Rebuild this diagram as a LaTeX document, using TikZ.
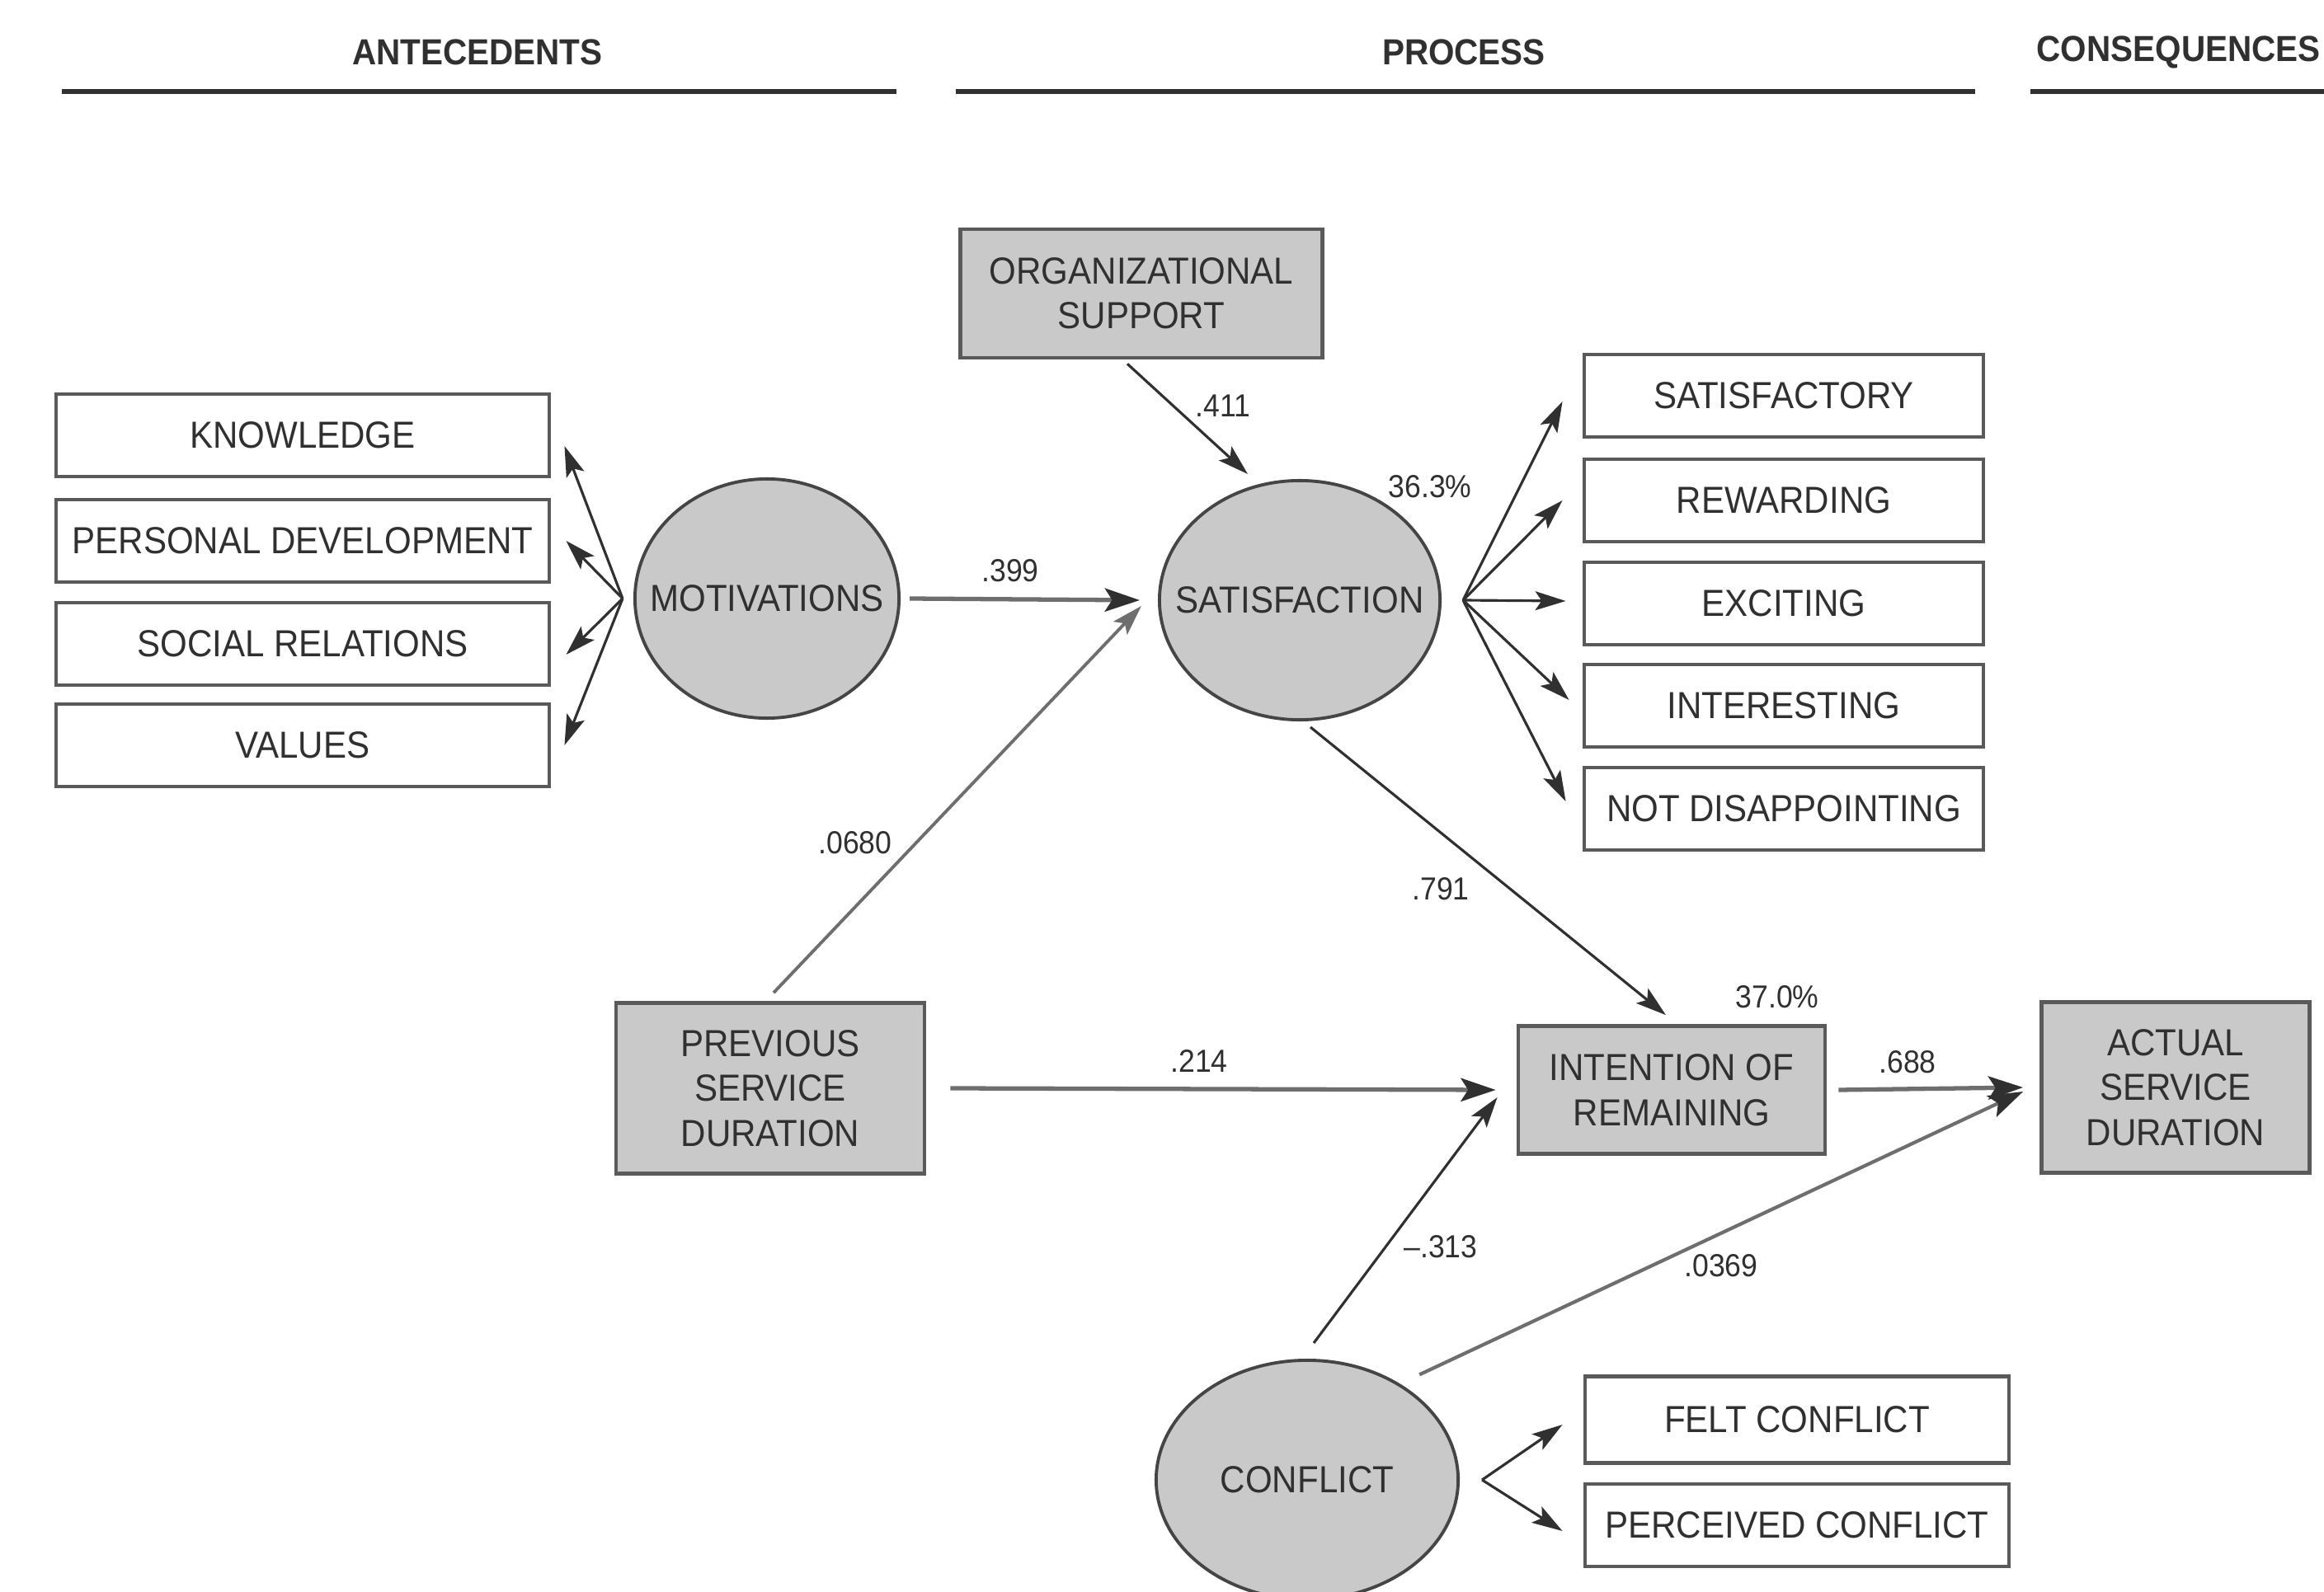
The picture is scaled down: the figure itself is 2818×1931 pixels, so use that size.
\documentclass[tikz,border=0pt]{standalone}
\usepackage{fontspec}
\setmainfont{Liberation Sans}[FakeStretch=0.92]
\usetikzlibrary{shapes.geometric,arrows.meta}
\definecolor{fillg}{HTML}{C9C9C9}
\definecolor{edgec}{HTML}{5A5A5A}
\definecolor{ink}{HTML}{303030}
\definecolor{thickc}{HTML}{6E6E6E}
\tikzset{
  boxbase/.style={draw=edgec, line width=1.3pt, inner sep=0pt, align=center, text=ink,
    font=\fontsize{13}{15.5}\selectfont},
  wbox/.style={boxbase, fill=white},
  gbox/.style={boxbase, fill=fillg},
  latent/.style={ellipse, draw=ink!90, line width=1.1pt, fill=fillg, inner sep=0pt, text=ink,
    font=\fontsize{13}{15.5}\selectfont},
  arr/.style={draw=ink, line width=0.9pt, -{Stealth[length=10.5pt,width=6.5pt,inset=2.2pt]}},
  thickarr/.style={draw=thickc, line width=1.5pt, -{Stealth[length=12pt,width=8pt,inset=2.5pt,color=ink]}},
  coef/.style={text=ink, font=\fontsize{11}{13}\selectfont, inner sep=0pt},
  head/.style={text=ink, font=\bfseries\fontsize{12.5}{14}\selectfont, inner sep=0pt},
  hline/.style={draw=ink, line width=1.6pt}
}
\begin{document}
\begin{tikzpicture}[x=0.01cm,y=-0.01cm]
\useasboundingbox[fill=white] (0,0) rectangle (2818,1931);

% headers
\node[head] (hA) at (579,63) {ANTECEDENTS};
\node[head] (hP) at (1775,63) {PROCESS};
\node[head, anchor=west] (hC) at (2469,63) {CONSEQUENCES};
\draw[hline] (75,111) -- (1087,111);
\draw[hline] (1159,111) -- (2395,111);
\draw[hline] (2462,111) -- (2818,111);

% left indicator boxes
\node[wbox, minimum width=5.98cm, minimum height=1.0cm] (kno) at (367,528) {KNOWLEDGE};
\node[wbox, minimum width=5.98cm, minimum height=1.0cm] (per) at (367,656) {PERSONAL DEVELOPMENT};
\node[wbox, minimum width=5.98cm, minimum height=1.0cm] (soc) at (367,781) {SOCIAL RELATIONS};
\node[wbox, minimum width=5.98cm, minimum height=1.0cm] (val) at (367,904) {VALUES};

% right indicator boxes
\node[wbox, minimum width=4.84cm, minimum height=1.0cm] (sfy) at (2163,480) {SATISFACTORY};
\node[wbox, minimum width=4.84cm, minimum height=1.0cm] (rew) at (2163,607) {REWARDING};
\node[wbox, minimum width=4.84cm, minimum height=1.0cm] (exc) at (2163,732) {EXCITING};
\node[wbox, minimum width=4.84cm, minimum height=1.0cm] (inr) at (2163,856) {INTERESTING};
\node[wbox, minimum width=4.84cm, minimum height=1.0cm] (nod) at (2163,981) {NOT DISAPPOINTING};

\node[wbox, minimum width=5.14cm, minimum height=1.05cm] (felt) at (2179,1722) {FELT CONFLICT};
\node[wbox, minimum width=5.14cm, minimum height=1.0cm] (perc) at (2179,1850) {PERCEIVED CONFLICT};

% grey observed boxes
\node[gbox, minimum width=4.39cm, minimum height=1.56cm] (org) at (1384,356) {ORGANIZATIONAL\\SUPPORT};
\node[gbox, minimum width=3.74cm, minimum height=2.07cm] (prev) at (934,1320) {PREVIOUS\\SERVICE\\DURATION};
\node[gbox, minimum width=3.72cm, minimum height=1.55cm] (int) at (2027,1322) {INTENTION OF\\REMAINING};
\node[gbox, minimum width=3.25cm, minimum height=2.07cm] (act) at (2638,1319) {ACTUAL\\SERVICE\\DURATION};

% latent variables
\node[latent, minimum width=3.2cm, minimum height=2.9cm] (mot) at (930,726) {\makebox[0pt]{MOTIVATIONS}};
\node[latent, minimum width=3.4cm, minimum height=2.9cm] (sat) at (1576,728) {\makebox[0pt]{SATISFACTION}};
\node[latent, minimum width=3.66cm, minimum height=2.9cm] (con) at (1585,1795) {\makebox[0pt]{CONFLICT}};

% fan origins
\coordinate (motfan) at ([xshift=-0.13cm]mot.west);
\coordinate (satfan) at ([xshift=0.26cm]sat.east);
\coordinate (confan) at ([xshift=0.27cm]con.east);

% motivation loadings
\draw[arr] (motfan) -- ([xshift=0.16cm,yshift=-0.13cm]kno.east);
\draw[arr] (motfan) -- ([xshift=0.18cm]per.east);
\draw[arr] (motfan) -- ([xshift=0.18cm,yshift=-0.13cm]soc.east);
\draw[arr] (motfan) -- ([xshift=0.16cm]val.east);

% satisfaction loadings
\draw[arr] (satfan) -- ([xshift=-0.24cm,yshift=-0.07cm]sfy.west);
\draw[arr] (satfan) -- ([xshift=-0.24cm]rew.west);
\draw[arr] (satfan) -- ([xshift=-0.20cm,yshift=0.03cm]exc.west);
\draw[arr] (satfan) -- ([xshift=-0.16cm,yshift=0.07cm]inr.west);
\draw[arr] (satfan) -- ([xshift=-0.20cm,yshift=0.09cm]nod.west);

% conflict loadings
\draw[arr] (confan) -- ([xshift=-0.25cm,yshift=-0.06cm]felt.west);
\draw[arr] (confan) -- ([xshift=-0.25cm,yshift=-0.07cm]perc.west);

% structural paths
\draw[arr] ([xshift=-0.17cm,yshift=-0.05cm]org.south) -- ([xshift=-0.63cm,yshift=0.06cm]sat.north);
\draw[thickarr] ([xshift=0.11cm]mot.east) -- ([xshift=-0.22cm]sat.west);
\draw[arr, draw=thickc, line width=1.1pt] ([xshift=0.04cm,yshift=0.1cm]prev.north) -- ([xshift=-0.2cm,yshift=-0.07cm]sat.west);
\draw[arr] ([xshift=0.13cm,yshift=-0.07cm]sat.south) -- ([xshift=-0.07cm,yshift=0.11cm]int.north);
\draw[thickarr] ([xshift=0.29cm]prev.east) -- ([xshift=-0.25cm]int.west);
\draw[thickarr] ([xshift=0.14cm]int.east) -- ([xshift=-0.2cm]act.west);
\draw[arr] ([xshift=0.08cm,yshift=0.19cm]con.north) -- ([xshift=-0.23cm,yshift=-0.09cm]int.west);
\draw[thickarr, line width=1.2pt, shorten <=0.26cm] (con.46) -- ([xshift=-0.2cm,yshift=-0.05cm]act.west);

% coefficients
\node[coef] (c411) at (1483,492) {.411};
\node[coef] (c399) at (1225,692) {.399};
\node[coef] (r363) at (1734,590) {36.3\%};
\node[coef] (c0680) at (1037,1022) {.0680};
\node[coef] (c791) at (1747,1078) {.791};
\node[coef] (c214) at (1454,1287) {.214};
\node[coef] (r370) at (2155,1209) {37.0\%};
\node[coef] (c688) at (2313,1288) {.688};
\node[coef] (c313) at (1747,1512) {–.313};
\node[coef] (c0369) at (2087,1535) {.0369};
\end{tikzpicture}
\end{document}
